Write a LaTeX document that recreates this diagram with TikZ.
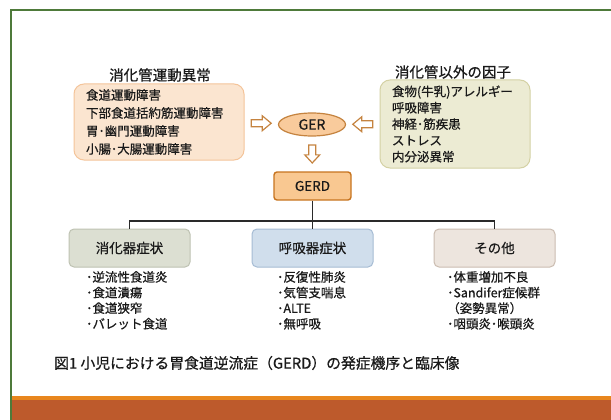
\documentclass[tikz,border=0pt]{standalone}
\usepackage{fontspec}
\setmainfont{Noto Sans CJK JP}[RawFeature={embolden=0.6}]
\usetikzlibrary{shapes.geometric,calc}
\definecolor{framegreen}{HTML}{4E7A3A}
\definecolor{bandorange}{HTML}{E8861E}
\definecolor{bandbrown}{HTML}{BD5A2C}
\definecolor{peachfill}{HTML}{FBE5D0}
\definecolor{peachline}{HTML}{F4C49A}
\definecolor{olivefill}{HTML}{ECEBD3}
\definecolor{oliveline}{HTML}{D4D1A4}
\definecolor{gerfill}{HTML}{F9CB9C}
\definecolor{gerline}{HTML}{C5833F}
\definecolor{gerdfill}{HTML}{F9C891}
\definecolor{gerdline}{HTML}{C7741F}
\definecolor{graygreenfill}{HTML}{DCDFD2}
\definecolor{graygreenline}{HTML}{BEC2B2}
\definecolor{bluefill}{HTML}{D0DEEC}
\definecolor{blueline}{HTML}{A6BCD4}
\definecolor{beigefill}{HTML}{EDE5DE}
\definecolor{beigeline}{HTML}{CBBDB1}
\definecolor{treeline}{HTML}{2A2A2A}
\definecolor{textcol}{HTML}{1A1A1A}
\tikzset{
  titletext/.style={font=\fontsize{14.5}{17}\selectfont, text=textcol, inner sep=0},
  infobox/.style={rounded corners=10pt, line width=1pt, align=left, inner xsep=12pt, inner ysep=2pt, text=textcol},
  hollowarr/.pic={\draw[gerline, fill=white, line width=1.2pt, line join=miter]
      (-10,-3.5) -- (1,-3.5) -- (1,-7.5) -- (10,0) -- (1,7.5) -- (1,3.5) -- (-10,3.5) -- cycle;},
  catbox/.style={rounded corners=5pt, line width=1pt, minimum width=121pt, minimum height=38pt, font=\fontsize{13.5}{16}\selectfont, text=textcol},
  listtext/.style={anchor=north west, inner sep=0pt, align=left, font=\fontsize{12.5}{15.6}\selectfont, text=textcol},
  treeedge/.style={draw=treeline, line width=1.8pt}
}
\begin{document}
\begin{tikzpicture}[x=1pt,y=-1pt]
\useasboundingbox (0,0) rectangle (611,420);
\fill[white] (0,0) rectangle (611,420);
% frame and band
\draw[framegreen, line width=2pt] (10.5,420) -- (10.5,10.5) -- (611,10.5);
\fill[bandorange] (11.5,396) rectangle (611,399.5);
\fill[bandbrown] (11.5,399.5) rectangle (611,420);

% titles
\node[titletext] (t1) at (160,75) {消化管運動異常};
\node[titletext] (t2) at (453,72) {消化管以外の因子};

% upper boxes
\node[infobox, fill=peachfill, draw=peachline, text width=146pt, minimum height=76pt,
      font=\fontsize{12.5}{18}\selectfont] (motor) at (159,122)
  {食道運動障害\\下部食道括約筋運動障害\\胃･幽門運動障害\\小腸･大腸運動障害};
\node[infobox, fill=olivefill, draw=oliveline, text width=126pt, minimum height=88pt,
      font=\fontsize{12.5}{16.3}\selectfont] (factors) at (455,124)
  {食物(牛乳)アレルギー\\呼吸障害\\神経･筋疾患\\ストレス\\内分泌異常};

% GER and GERD
\node[ellipse, draw=gerline, fill=gerfill, line width=1.2pt, minimum width=67pt, minimum height=23pt,
      inner sep=0pt, font=\fontsize{14}{16}\selectfont, text=textcol] (ger) at (312,124.5) {GER};
\node[rounded corners=3pt, draw=gerdline, fill=gerdfill, line width=1.4pt, minimum width=77pt, minimum height=28pt,
      inner sep=0pt, font=\fontsize{13.5}{16}\selectfont, text=textcol] (gerd) at (312.5,186) {GERD};

% hollow arrows
\coordinate (m1) at ($(motor.east)!0.5!(ger.west)$);
\coordinate (m2) at ($(factors.west)!0.5!(ger.east)$);
\coordinate (m3) at ($(ger.south)!0.5!(gerd.north)$);
\pic at (m1) {hollowarr};
\pic[rotate=180] at (m2) {hollowarr};
\pic[rotate=270, xscale=0.9] at (m3) {hollowarr};

% category boxes
\node[catbox, fill=graygreenfill, draw=graygreenline] (c1) at (129.5,248) {消化器症状};
\node[catbox, fill=bluefill, draw=blueline] (c2) at (312.5,248) {呼吸器症状};
\node[catbox, fill=beigefill, draw=beigeline] (c3) at (494.5,248) {その他};

% tree
\coordinate (j) at (312.5,221);
\draw[treeedge] (gerd.south) -- (j);
\draw[treeedge] (c1.north) -- (c1.north |- j) -- (c3.north |- j) -- (c3.north);
\draw[treeedge] (j) -- (c2.north);

% lists
\node[listtext] (l1) at (86,271) {･逆流性食道炎\\･食道潰瘍\\･食道狭窄\\･バレット食道};
\node[listtext] (l2) at (277,271) {･反復性肺炎\\･気管支喘息\\･ALTE\\･無呼吸};
\node[listtext] (l3) at (447,271) {･体重増加不良\\･Sandifer症候群\\（姿勢異常）\\･咽頭炎･喉頭炎};

% caption
\node[anchor=west, inner sep=0pt, font=\fontsize{14.8}{18}\selectfont, text=textcol] (cap) at (54,363)
  {図1 小児における胃食道逆流症（GERD）の発症機序と臨床像};
\end{tikzpicture}
\end{document}
